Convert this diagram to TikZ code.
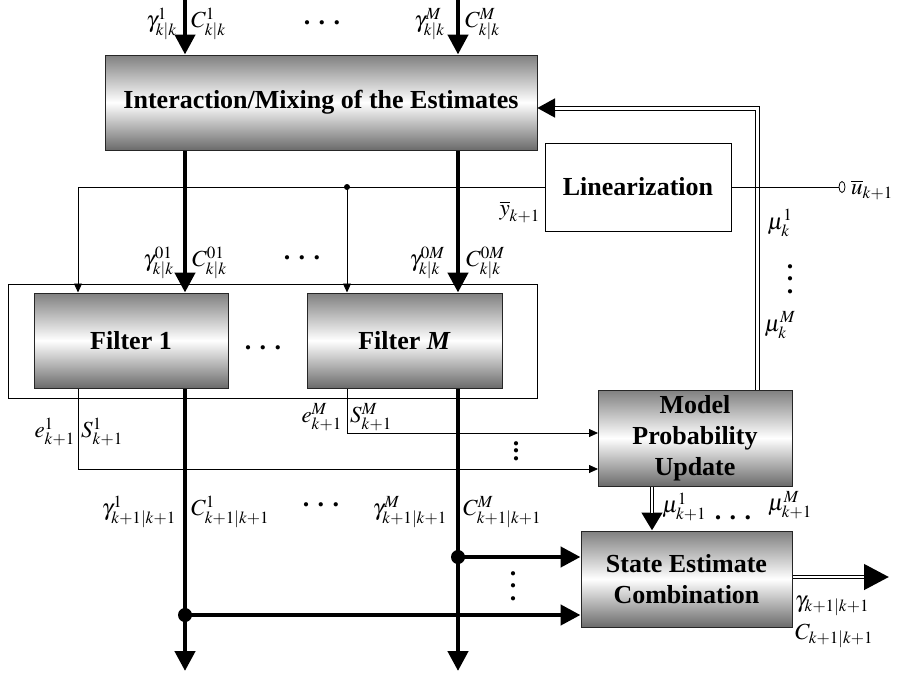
\documentclass[tikz,border=0pt]{standalone}
\usepackage{mathptmx}
\usepackage[no-math]{fontspec}
\setmainfont{Liberation Serif}
\usetikzlibrary{arrows.meta,backgrounds,shapes.geometric}

\tikzset{
  shadebox/.style={draw=black!85, line width=1pt, top color=black!50, bottom color=black!58,
    middle color=white, inner sep=0pt, align=center,
    font=\fontsize{26}{31}\selectfont\bfseries},
  plainbox/.style={draw, line width=0.8pt, fill=white, inner sep=0pt,
    font=\fontsize{26}{31}\selectfont\bfseries},
  framebox/.style={draw, line width=0.8pt, inner sep=0pt},
  thickarrow/.style={line width=4.5pt, -{Triangle[length=20pt,width=20pt]}},
  thinarrow/.style={line width=0.8pt, -{Triangle[length=9pt,width=8pt]}},
  thinline/.style={line width=0.8pt},
  dblouter/.style={line width=5pt, black},
  dblinner/.style={line width=3pt, white},
  lbl/.style={font=\fontsize{23}{26}\selectfont, inner sep=0pt},
  hdots/.style={font=\fontsize{26}{26}\selectfont\bfseries, inner sep=0pt},
  vdotsn/.style={font=\fontsize{26}{#1}\selectfont\bfseries, inner sep=0pt, align=center},
  junction/.style={circle, fill, inner sep=0pt, minimum size=#1},
}
\newcommand{\hdotrow}{.\hspace{8.5pt}.\hspace{8.5pt}.}

\begin{document}
\begin{tikzpicture}[x=1pt,y=-1pt]
\useasboundingbox (0,0) rectangle (898,678);

% ---- blocks ----
\node[framebox, minimum width=529pt, minimum height=114pt] (bank) at (272.5,341) {};
\node[shadebox, minimum width=432pt, minimum height=95pt] (mix) at (321,102.5) {Interaction/Mixing of the Estimates};
\node[plainbox, minimum width=186pt, minimum height=88pt] (lin) at (638,187) {Linearization};
\node[shadebox, minimum width=194pt, minimum height=95pt] (f1) at (131,340.5) {Filter 1};
\node[shadebox, minimum width=195pt, minimum height=95pt] (fM) at (404.5,340.5) {Filter \textit{M}};
\node[shadebox, minimum width=194pt, minimum height=96pt] (mpu) at (695,438) {Model\\Probability\\Update};
\node[shadebox, minimum width=211pt, minimum height=96pt] (sec) at (686.5,579) {State Estimate\\Combination};
\node[draw, ellipse, line width=0.8pt, minimum width=6pt, minimum height=11pt, inner sep=0pt] (uin) at (842,187) {};

% ---- reference points ----
\coordinate (x1) at (185,0);
\coordinate (xM) at (458,0);
\coordinate (t1) at (78,0);
\coordinate (tM) at (347,0);
\coordinate (bot) at (0,671);
\coordinate (jy) at (347,187);
\coordinate (j1) at (185,615);
\coordinate (jM) at (458,557);
\coordinate (e1in) at (598,469);
\coordinate (eMin) at (598,433);
\coordinate (fb) at (757,108);
\coordinate (fbin) at (537,108);
\coordinate (pm) at (652,0);
\coordinate (outend) at (889,577);

% ---- connectors ----
\begin{pgfonlayer}{background}
  % estimate paths
  \draw[thickarrow] (x1) -- (x1 |- mix.north);
  \draw[thickarrow] (xM) -- (xM |- mix.north);
  \draw[thickarrow] (x1 |- mix.south) -- (x1 |- f1.north);
  \draw[thickarrow] (xM |- mix.south) -- (xM |- fM.north);
  \draw[thickarrow] (x1 |- f1.south) -- (x1 |- bot);
  \draw[thickarrow] (xM |- fM.south) -- (xM |- bot);
  \draw[thickarrow] (jM) -- (jM -| sec.west);
  \draw[thickarrow] (j1) -- (j1 -| sec.west);
  % model probabilities fed back to the mixing stage
  \draw[dblouter, -{Triangle[length=18pt,width=18pt]}] (fb |- mpu.north) |- (fbin);
  \draw[dblinner, shorten >=18pt] (fb |- mpu.north) |- (fbin);
  % updated model probabilities
  \draw[dblouter, line width=4.5pt, -{Triangle[length=18pt,width=20pt]}] (pm |- mpu.south) -- (pm |- sec.north);
  \draw[dblinner, line width=2.5pt, shorten >=18pt] (pm |- mpu.south) -- (pm |- sec.north);
  % combined output
  \draw[dblouter, line width=4.5pt, -{Triangle[length=25pt,width=25pt]}] (outend -| sec.east) -- (outend);
  \draw[dblinner, line width=2.5pt, shorten >=25pt] (outend -| sec.east) -- (outend);
  % linearization signals
  \draw[thinarrow] (lin.west) -| (t1 |- f1.north);
  \draw[thinarrow] (jy) -- (jy |- fM.north);
  \draw[thinline] (lin.east) -- (uin.west);
  % innovations and covariances
  \draw[thinarrow] (t1 |- f1.south) |- (e1in);
  \draw[thinarrow] (tM |- fM.south) |- (eMin);
\end{pgfonlayer}

% ---- junctions ----
\node[junction=6pt] (djy) at (jy) {};
\node[junction=14pt] (dj1) at (j1) {};
\node[junction=14pt] (djM) at (jM) {};

% ---- labels ----
\node[lbl, anchor=east] (ga1) at (177,24) {$\gamma^{1}_{k|k}$};
\node[lbl, anchor=west] (ca1) at (191,24) {$C^{1}_{k|k}$};
\node[hdots] (dtop) at (322,23) {\hdotrow};
\node[lbl, anchor=east] (gaM) at (445,24) {$\gamma^{M}_{k|k}$};
\node[lbl, anchor=west] (caM) at (465,24) {$C^{M}_{k|k}$};

\node[lbl, anchor=east] (g01) at (174,263) {$\gamma^{01}_{k|k}$};
\node[lbl, anchor=west] (c01) at (192,263) {$C^{01}_{k|k}$};
\node[hdots] (dmid) at (302,258) {\hdotrow};
\node[lbl, anchor=east] (g0M) at (445,263) {$\gamma^{0M}_{k|k}$};
\node[lbl, anchor=west] (c0M) at (466,263) {$C^{0M}_{k|k}$};

\node[lbl, anchor=east] (ybar) at (540,212) {$\overline{y}_{k+1}$};
\node[lbl, anchor=west] (ubar) at (851,190) {$\overline{u}_{k+1}$};

\node[lbl] (mu1) at (780,223) {$\mu^{1}_{k}$};
\node[vdotsn=12.5] (muv) at (790,279) {.\\.\\.};
\node[lbl] (muM) at (780,325) {$\mu^{M}_{k}$};

\node[hdots] (dfil) at (263,348) {\hdotrow};

\node[lbl, anchor=east] (e1) at (75,432) {$e^{1}_{k+1}$};
\node[lbl, anchor=west] (s1) at (81,432) {$S^{1}_{k+1}$};
\node[lbl, anchor=east] (eM) at (342,417) {$e^{M}_{k+1}$};
\node[lbl, anchor=west] (sM) at (350,417) {$S^{M}_{k+1}$};
\node[vdotsn=7.5] (ev) at (516,451) {.\\.\\.};

\node[lbl, anchor=west] (mun1) at (662,507) {$\mu^{1}_{k+1}$};
\node[hdots] (mund) at (733,518) {\hdotrow};
\node[lbl] (munM) at (790,505) {$\mu^{M}_{k+1}$};

\node[lbl, anchor=east] (gb1) at (176,512) {$\gamma^{1}_{k+1|k+1}$};
\node[lbl, anchor=west] (cb1) at (191,512) {$C^{1}_{k+1|k+1}$};
\node[hdots] (dbot) at (321,505) {\hdotrow};
\node[lbl, anchor=east] (gbM) at (447,512) {$\gamma^{M}_{k+1|k+1}$};
\node[lbl, anchor=west] (cbM) at (463,512) {$C^{M}_{k+1|k+1}$};
\node[vdotsn=12.5] (sv) at (513,586) {.\\.\\.};

\node[lbl, anchor=west] (gout) at (795,606) {$\gamma_{k+1|k+1}$};
\node[lbl, anchor=west] (cout) at (795,636) {$C_{k+1|k+1}$};
\end{tikzpicture}
\end{document}
